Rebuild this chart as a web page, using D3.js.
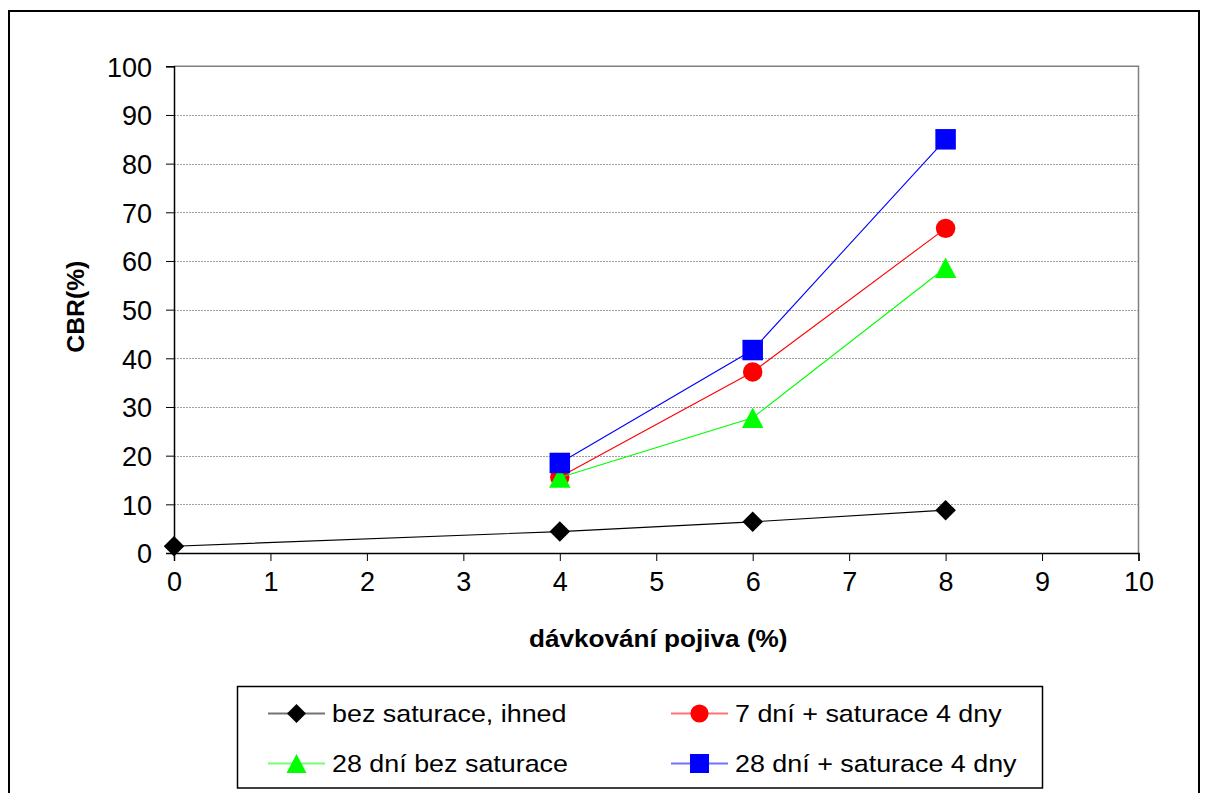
<!DOCTYPE html>
<html lang="cs">
<meta charset="utf-8">
<script src="https://cdn.jsdelivr.net/npm/d3@7"></script>
<style>
    body {
        margin: 0;
        background-color: #ffffff;
    }
    text {
        font-family: "Liberation Sans", Arial, sans-serif;
        fill: #000;
    }
    .grid line {
        stroke: #a0a0a0;
        stroke-width: 1px;
        stroke-dasharray: 2,1;
        shape-rendering: crispEdges;
    }
</style>
<body>
<script>
// input data
var xValues = [0, 4, 6, 8];
var seriesNames = ["bez saturace, ihned", "7 dní + saturace 4 dny", "28 dní bez saturace", "28 dní + saturace 4 dny"];
var bezSaturace = [1.4, 4.4, 6.4, 8.8];
var sedmDni = [null, 15.6, 37.2, 66.7];
var dvacetOsmBez = [null, 15.5, 27.8, 58.6];
var dvacetOsmSat = [null, 18.5, 41.7, 85.0];
var xTicks = [0, 1, 2, 3, 4, 5, 6, 7, 8, 9, 10];
var yTicks = [0, 10, 20, 30, 40, 50, 60, 70, 80, 90, 100];

var colors = ["#000000", "#ff0000", "#00ff00", "#0000ff"];
var shapes = ["diamond", "circle", "triangle", "square"];
var allValues = [bezSaturace, sedmDni, dvacetOsmBez, dvacetOsmSat];

var series = seriesNames.map(function(name, i){
    return {
        name: name,
        color: colors[i],
        shape: shapes[i],
        points: xValues.map(function(x, j){ return [x, allValues[i][j]]; })
                       .filter(function(d){ return d[1] != null; })
    };
});

var W = 1209, H = 793;
var plot = {left: 174, right: 1138.5, top: 66.3, bottom: 553};

var svg = d3.select("body").append("svg")
    .attr("width", W)
    .attr("height", H);

// outer frame
svg.append("rect")
    .attr("x", 9).attr("y", 11)
    .attr("width", 1190).attr("height", 800)
    .attr("fill", "#fff")
    .attr("stroke", "#000")
    .attr("stroke-width", 2);

var x = d3.scaleLinear().domain([0, 10]).range([plot.left, plot.right]);
var y = d3.scaleLinear().domain([0, 100]).range([plot.bottom, plot.top]);

// gridlines
svg.append("g")
    .attr("class", "grid")
    .selectAll("line")
    .data(yTicks.filter(function(d){ return d > 0 && d < 100; }))
    .enter().append("line")
    .attr("x1", plot.left).attr("x2", plot.right)
    .attr("y1", function(d){ return Math.round(y(d)) + 0.5; })
    .attr("y2", function(d){ return Math.round(y(d)) + 0.5; });

// plot border top/right
svg.append("path")
    .attr("d", "M" + plot.left + "," + (y(100)) + "H" + plot.right + "V" + plot.bottom)
    .attr("fill", "none")
    .attr("stroke", "#808080")
    .attr("stroke-width", 1.5);

// axes
var yAxis = d3.axisLeft(y).tickValues(yTicks).tickSize(8).tickPadding(14);
var gy = svg.append("g")
    .attr("transform", "translate(" + plot.left + ",0)")
    .call(yAxis);
gy.selectAll("text").style("font-size", "27px").attr("dy", "0.36em");

var xAxis = d3.axisBottom(x).tickValues(xTicks).tickSize(8).tickPadding(11);
var gx = svg.append("g")
    .attr("transform", "translate(0," + plot.bottom + ")")
    .call(xAxis);
gx.selectAll("text").style("font-size", "27px");

[gx, gy].forEach(function(g){
    g.select(".domain").attr("stroke", "#000").attr("stroke-width", 1.5);
    g.selectAll(".tick line").attr("stroke", "#000").attr("stroke-width", 1);
    g.selectAll("text").style("font-family", "'Liberation Sans', Arial, sans-serif").attr("fill", "#000");
});

// axis titles (slightly widened like the original)
var sx = 1.09;
svg.append("text")
    .attr("transform", "translate(" + ((plot.left + plot.right) / 2 + 2) + ",647) scale(" + sx + ",1)")
    .attr("text-anchor", "middle")
    .style("font-size", "24px")
    .style("font-weight", "bold")
    .text("dávkování pojiva (%)");

svg.append("text")
    .attr("transform", "translate(84," + ((plot.top + plot.bottom) / 2 - 3) + ") rotate(-90) scale(1.03,1)")
    .attr("text-anchor", "middle")
    .style("font-size", "24px")
    .style("font-weight", "bold")
    .text("CBR(%)");

// marker shapes
function markerPath(shape, s){
    var h = s / 2;
    if (shape === "diamond") return "M0," + (-h) + "L" + h + ",0L0," + h + "L" + (-h) + ",0Z";
    if (shape === "square") return "M" + (-h) + "," + (-h) + "H" + h + "V" + h + "H" + (-h) + "Z";
    if (shape === "triangle") return "M0," + (-h) + "L" + (h * 1.05) + "," + h + "L" + (-h * 1.05) + "," + h + "Z";
    var r = h * 0.95;
    return "M" + (-r) + ",0A" + r + "," + r + " 0 1,0 " + r + ",0A" + r + "," + r + " 0 1,0 " + (-r) + ",0Z";
}

var line = d3.line()
    .x(function(d){ return x(d[0]); })
    .y(function(d){ return y(d[1]); });

var sg = svg.selectAll(".series")
    .data(series)
    .enter().append("g")
    .attr("class", "series");

sg.append("path")
    .attr("d", function(d){ return line(d.points); })
    .attr("fill", "none")
    .attr("stroke", function(d){ return d.color; })
    .attr("stroke-width", 1.1);

sg.each(function(s){
    d3.select(this).selectAll(".pt")
        .data(s.points)
        .enter().append("path")
        .attr("class", "pt")
        .attr("transform", function(d){ return "translate(" + x(d[0]) + "," + y(d[1]) + ")"; })
        .attr("d", markerPath(s.shape, 20.5))
        .attr("fill", s.color);
});

// legend
var legend = svg.append("g");
legend.append("rect")
    .attr("x", 237.5).attr("y", 686.5)
    .attr("width", 805).attr("height", 101.5)
    .attr("fill", "#fff")
    .attr("stroke", "#000")
    .attr("stroke-width", 1.5);

var legendCols = [268, 671];
var legendRows = [713.5, 763.5];

var li = legend.selectAll(".li")
    .data(series)
    .enter().append("g")
    .attr("transform", function(d, i){
        return "translate(" + legendCols[i % 2] + "," + legendRows[Math.floor(i / 2)] + ")";
    });

li.append("line")
    .attr("x1", 0).attr("x2", 57)
    .attr("stroke", function(d){ return d.color; })
    .attr("stroke-opacity", 0.55)
    .attr("stroke-width", 2);

li.append("path")
    .attr("transform", "translate(28.5,0)")
    .attr("d", function(d){ return markerPath(d.shape, 19); })
    .attr("fill", function(d){ return d.color; });

li.append("text")
    .attr("transform", "translate(64,0) scale(1.12,1)")
    .attr("dy", "0.36em")
    .style("font-size", "24px")
    .text(function(d){ return d.name; });
</script>
</body>
</html>
